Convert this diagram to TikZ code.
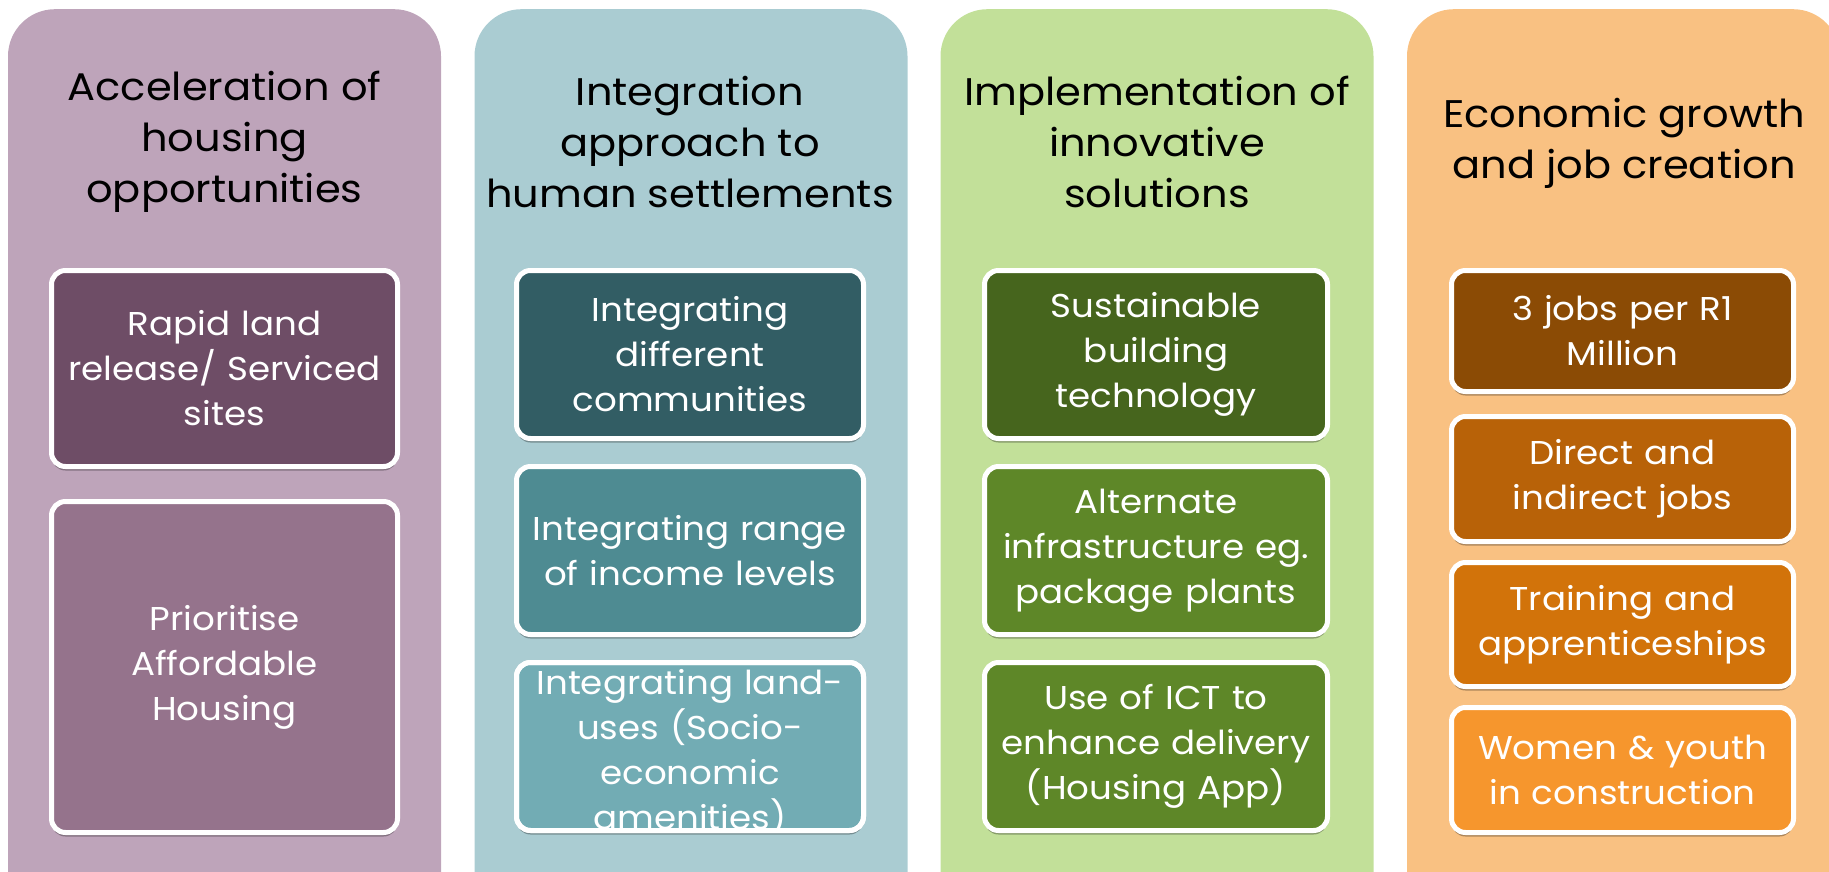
\documentclass[tikz,border=0pt]{standalone}
\usepackage{fontspec}
\setmainfont[FakeStretch=1.08]{Poppins}
\usetikzlibrary{shadows}

\definecolor{accBg}{HTML}{BEA4BA}
\definecolor{accA}{HTML}{6E4D66}
\definecolor{accB}{HTML}{95738C}
\definecolor{intBg}{HTML}{AACCD2}
\definecolor{intA}{HTML}{325D64}
\definecolor{intB}{HTML}{4E8B92}
\definecolor{intC}{HTML}{72ACB4}
\definecolor{impBg}{HTML}{C2E099}
\definecolor{impA}{HTML}{46651D}
\definecolor{impB}{HTML}{5E8728}
\definecolor{ecoBg}{HTML}{F9C182}
\definecolor{ecoA}{HTML}{8B4B05}
\definecolor{ecoB}{HTML}{B86208}
\definecolor{ecoC}{HTML}{D2730A}
\definecolor{ecoD}{HTML}{F6962D}

\tikzset{
  pillar/.style={fill=#1, rounded corners=47pt, minimum width=433pt, minimum height=940pt, anchor=north, inner sep=0pt},
  heading/.style={align=center, text=black, font=\fontsize{38.5}{51}\selectfont},
  frame/.style={draw=white, line width=5pt, rounded corners=14pt, inner sep=0pt},
  tasktext/.style={align=center, text=white, text width=336pt, font=\fontsize{33}{45}\selectfont},
  task/.style={frame, tasktext, fill=#1, drop shadow={shadow xshift=0pt, shadow yshift=-4pt, opacity=.3, fill=black}},
}

\begin{document}
\begin{tikzpicture}[x=1pt,y=-1pt]
\useasboundingbox (0,0) rectangle (1829,872);
\clip (0,0) rectangle (1829,872);

% columns
\node[pillar=accBg] (acc) at (224.5,9) {};
\node[pillar=intBg] (int) at (691,9) {};
\node[pillar=impBg] (imp) at (1157,9) {};
\node[pillar=ecoBg] (eco) at (1623.5,9) {};

% headings
\node[heading] (accHead) at (224.5,142) {Acceleration of\\housing\\opportunities};
\node[heading] (intHead) at (690,142) {Integration\\approach to\\human settlements};
\node[heading] (impHead) at (1157,142) {Implementation of\\innovative\\solutions};
\node[heading] (ecoHead) at (1624,143) {Economic growth\\and job creation};

% housing
\node[task=accA, minimum width=346pt, minimum height=196pt] (rapid) at (224.5,368.5) {Rapid land\\release/ Serviced\\sites};
\node[task=accB, minimum width=346pt, minimum height=331pt] (afford) at (224.5,667) {Prioritise\\Affordable\\Housing};

% settlements
\node[task=intA, minimum width=347pt, minimum height=168pt] (communities) at (690,354.5) {Integrating\\different\\communities};
\node[task=intB, minimum width=347pt, minimum height=168pt] (income) at (690,550.5) {Integrating range\\of income levels};
\node[task=intC, minimum width=347pt, minimum height=168pt] (landuse) at (690,746.5) {};
\begin{scope}
\clip[rounded corners=12pt] ([xshift=5pt,yshift=5pt]landuse.south west) rectangle ([xshift=-5pt,yshift=-5pt]landuse.north east);
\node[tasktext] (landuseText) at (690,753) {Integrating land-\\uses (Socio-\\economic\\amenities)};
\end{scope}
\node[frame, minimum width=347pt, minimum height=168pt] (landuseFrame) at (landuse.center) {};

% innovation
\node[task=impA, minimum width=343pt, minimum height=168pt] (tech) at (1156,354.5) {Sustainable\\building\\technology};
\node[task=impB, minimum width=343pt, minimum height=168pt] (infra) at (1156,550.5) {Alternate\\infrastructure eg.\\package plants};
\node[task=impB, minimum width=343pt, minimum height=168pt] (ict) at (1156,746.5) {Use of ICT to\\enhance delivery\\(Housing App)};

% jobs
\node[task=ecoA, minimum width=342pt, minimum height=121pt] (million) at (1622.5,331) {3 jobs per R1\\Million};
\node[task=ecoB, minimum width=342pt, minimum height=125pt] (direct) at (1622.5,479) {Direct and\\indirect jobs};
\node[task=ecoC, minimum width=342pt, minimum height=124pt] (training) at (1622.5,624.5) {Training and\\apprenticeships};
\node[task=ecoD, minimum width=342pt, minimum height=125pt] (women) at (1622.5,770) {Women \& youth\\in construction};

\end{tikzpicture}
\end{document}
